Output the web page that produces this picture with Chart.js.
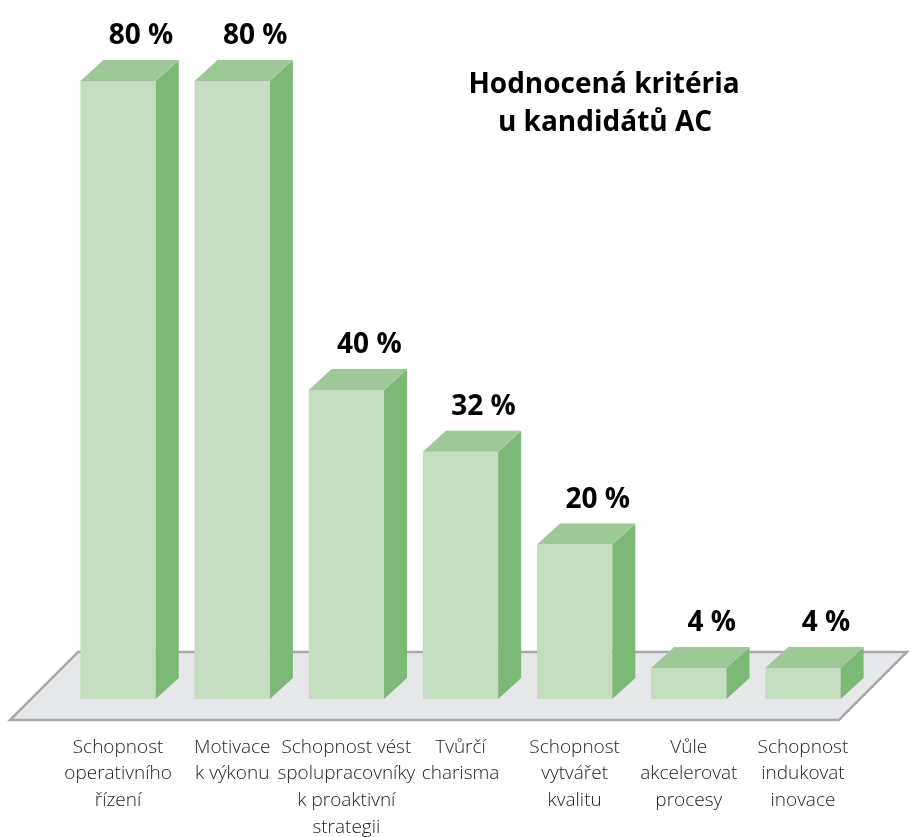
<!DOCTYPE html>
<html>
<head>
<meta charset="utf-8">
<script src="https://cdn.jsdelivr.net/npm/chart.js@4.4.1/dist/chart.umd.min.js"></script>
<style>
  html, body { margin: 0; padding: 0; background: #fff; }
</style>
</head>
<body>
<canvas id="chart" width="910" height="837"></canvas>
<script>
// --- data ---
const categories = [
  ['Schopnost', 'operativního', 'řízení'],
  ['Motivace', 'k výkonu'],
  ['Schopnost vést', 'spolupracovníky', 'k proaktivní', 'strategii'],
  ['Tvůrčí', 'charisma'],
  ['Schopnost', 'vytvářet', 'kvalitu'],
  ['Vůle', 'akcelerovat', 'procesy'],
  ['Schopnost', 'indukovat', 'inovace']
];
const values = [80, 80, 40, 32, 20, 4, 4];
const titleLines = ['Hodnocená kritéria', 'u kandidátů AC'];

// --- look ---
const FRONT = '#c4dcbf';
const TOP = '#9fc898';
const SIDE = '#7cb876';
const DX = 23;   // depth offset of the 3D boxes
const DY = 21;

// floor plane under the bars + the 3D faces + labels
const boxes3d = {
  id: 'boxes3d',
  beforeDatasetsDraw(chart) {
    const ctx = chart.ctx;
    const a = chart.chartArea;
    const yFront = a.bottom + 21;
    const yBack = a.bottom - 47;
    const xl = a.left - 51;
    const xr = a.right - 21;
    ctx.save();
    ctx.beginPath();
    ctx.moveTo(xl, yFront);
    ctx.lineTo(xr, yFront);
    ctx.lineTo(xr + (yFront - yBack), yBack);
    ctx.lineTo(xl + (yFront - yBack), yBack);
    ctx.closePath();
    ctx.fillStyle = '#e6e7e8';
    ctx.fill();
    ctx.lineWidth = 2.5;
    ctx.strokeStyle = '#a7a9ac';
    ctx.stroke();
    ctx.restore();
  },
  afterDatasetsDraw(chart) {
    const ctx = chart.ctx;
    const meta = chart.getDatasetMeta(0);
    ctx.save();
    meta.data.forEach((bar, i) => {
      const l = bar.x - bar.width / 2;
      const r = bar.x + bar.width / 2;
      const t = bar.y;
      const b = bar.base;
      // side
      ctx.beginPath();
      ctx.moveTo(r, t);
      ctx.lineTo(r + DX, t - DY);
      ctx.lineTo(r + DX, b - DY);
      ctx.lineTo(r, b);
      ctx.closePath();
      ctx.fillStyle = SIDE;
      ctx.fill();
      // top
      ctx.beginPath();
      ctx.moveTo(l, t);
      ctx.lineTo(l + DX, t - DY);
      ctx.lineTo(r + DX, t - DY);
      ctx.lineTo(r, t);
      ctx.closePath();
      ctx.fillStyle = TOP;
      ctx.fill();
      // value label
      ctx.fillStyle = '#000';
      ctx.font = 'bold 28px "Open Sans", sans-serif';
      ctx.textAlign = 'center';
      ctx.textBaseline = 'alphabetic';
      ctx.fillText(values[i] + ' %', bar.x + DX, t - DY - 16);
    });
    // title
    ctx.font = 'bold 28px "Open Sans", sans-serif';
    ctx.fillText(titleLines[0], 604, 93);
    ctx.fillText(titleLines[1], 605, 131);
    ctx.restore();
  }
};

new Chart(document.getElementById('chart'), {
  type: 'bar',
  data: {
    labels: categories,
    datasets: [{
      data: values,
      backgroundColor: FRONT,
      borderWidth: 0,
      barPercentage: 0.66,
      categoryPercentage: 1
    }]
  },
  options: {
    responsive: false,
    animation: false,
    layout: { padding: { left: 61, right: 50, top: 81, bottom: 0 } },
    plugins: {
      legend: { display: false },
      tooltip: { enabled: false },
      title: { display: false }
    },
    scales: {
      y: {
        display: false,
        min: 0,
        max: 80
      },
      x: {
        grid: { display: false, drawTicks: false },
        border: { display: false },
        afterFit(scale) { scale.height = 138; },
        ticks: {
          padding: 35,
          maxRotation: 0,
          autoSkip: false,
          color: '#1e1e1e',
          font: { family: '"Open Sans", sans-serif', size: 19, weight: 300, lineHeight: 1.4 }
        }
      }
    }
  },
  plugins: [boxes3d]
});
</script>
</body>
</html>
